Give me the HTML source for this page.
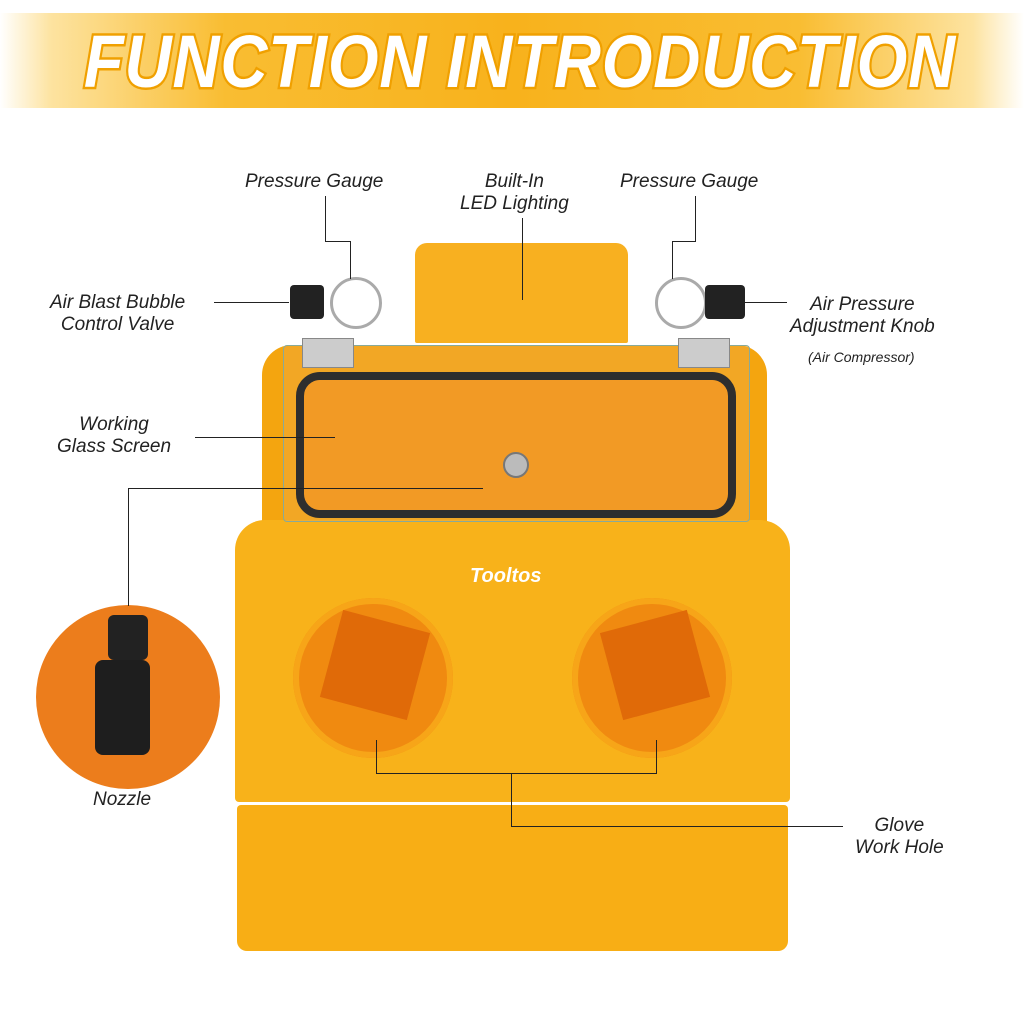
<!DOCTYPE html>
<html><head><style>
body{margin:0;width:1024px;height:1024px;background:#fff;position:relative;overflow:hidden;font-family:"Liberation Sans",sans-serif}
.a{position:absolute}
.lab{position:absolute;font-style:italic;font-size:19px;color:#222;text-align:center;line-height:22px;white-space:nowrap}
.ln{position:absolute;background:#222}
</style></head><body>
<div class="a" style="left:0;top:13px;width:1024px;height:95px;background:linear-gradient(90deg,#fff 0%,#fde3a0 5%,#f9bd32 22%,#f8b21c 50%,#f9bd32 78%,#fde3a0 95%,#fff 100%)"></div>
<div class="a" style="left:8px;top:20px;width:1024px;text-align:center;font-size:74px;font-weight:bold;font-style:italic;color:#fff;-webkit-text-stroke:5px #f0a000;paint-order:stroke fill;letter-spacing:1px;transform:scaleX(0.88);line-height:84px">FUNCTION INTRODUCTION</div>

<div class="a" style="left:237px;top:805px;width:551px;height:146px;background:#f8ae15;border-radius:4px 4px 10px 10px"></div>
<div class="a" style="left:262px;top:345px;width:505px;height:200px;background:#f4a50f;border-radius:30px 30px 0 0"></div>
<div class="a" style="left:235px;top:520px;width:555px;height:282px;background:#f8b21a;border-radius:30px 30px 4px 4px"></div>
<div class="a" style="left:415px;top:243px;width:213px;height:100px;background:#f8b020;border-radius:12px 12px 2px 2px"></div>
<div class="a" style="left:283px;top:345px;width:465px;height:175px;background:rgba(240,170,60,0.5);border:1px solid #8a9;border-radius:4px"></div>
<div class="a" style="left:296px;top:372px;width:424px;height:130px;border:8px solid #2e2e2e;border-radius:24px;background:#f29a25"></div>
<div class="a" style="left:503px;top:452px;width:22px;height:22px;border-radius:50%;background:#bbb;border:2px solid #777"></div>
<div class="a" style="left:302px;top:338px;width:50px;height:28px;background:#ccc;border:1px solid #888"></div>
<div class="a" style="left:678px;top:338px;width:50px;height:28px;background:#ccc;border:1px solid #888"></div>
<div class="a" style="left:290px;top:285px;width:34px;height:34px;background:#222;border-radius:4px"></div>
<div class="a" style="left:330px;top:277px;width:46px;height:46px;border-radius:50%;background:#fff;border:3px solid #aaa"></div>
<div class="a" style="left:655px;top:277px;width:46px;height:46px;border-radius:50%;background:#fff;border:3px solid #aaa"></div>
<div class="a" style="left:705px;top:285px;width:40px;height:34px;background:#222;border-radius:4px"></div>
<div class="a" style="left:470px;top:565px;font-style:italic;font-weight:bold;color:#fff;font-size:20px">Tooltos</div>
<div class="a" style="left:293px;top:598px;width:160px;height:160px;border-radius:50%;background:#f08a10;box-shadow:inset 0 0 0 6px #f7a518"></div>
<div class="a" style="left:572px;top:598px;width:160px;height:160px;border-radius:50%;background:#f08a10;box-shadow:inset 0 0 0 6px #f7a518"></div>
<div class="a" style="left:330px;top:620px;width:90px;height:90px;background:#e06a08;transform:rotate(15deg)"></div>
<div class="a" style="left:610px;top:620px;width:90px;height:90px;background:#e06a08;transform:rotate(-15deg)"></div>
<div class="a" style="left:36px;top:605px;width:184px;height:184px;border-radius:50%;background:#ec7d1c"></div>
<div class="a" style="left:95px;top:660px;width:55px;height:95px;background:#1e1e1e;border-radius:8px"></div>
<div class="a" style="left:108px;top:615px;width:40px;height:45px;background:#222;border-radius:6px"></div>

<div class="ln" style="left:325px;top:196px;width:1px;height:46px"></div>
<div class="ln" style="left:325px;top:241px;width:26px;height:1px"></div>
<div class="ln" style="left:350px;top:241px;width:1px;height:38px"></div>
<div class="ln" style="left:522px;top:218px;width:1px;height:82px"></div>
<div class="ln" style="left:695px;top:196px;width:1px;height:46px"></div>
<div class="ln" style="left:672px;top:241px;width:24px;height:1px"></div>
<div class="ln" style="left:672px;top:241px;width:1px;height:38px"></div>
<div class="ln" style="left:214px;top:302px;width:75px;height:1px"></div>
<div class="ln" style="left:745px;top:302px;width:42px;height:1px"></div>
<div class="ln" style="left:195px;top:437px;width:140px;height:1px"></div>
<div class="ln" style="left:128px;top:488px;width:355px;height:1px"></div>
<div class="ln" style="left:128px;top:488px;width:1px;height:118px"></div>
<div class="ln" style="left:376px;top:740px;width:1px;height:34px"></div>
<div class="ln" style="left:656px;top:740px;width:1px;height:34px"></div>
<div class="ln" style="left:376px;top:773px;width:281px;height:1px"></div>
<div class="ln" style="left:511px;top:773px;width:1px;height:54px"></div>
<div class="ln" style="left:511px;top:826px;width:332px;height:1px"></div>

<div class="lab" style="left:245px;top:171px">Pressure Gauge</div>
<div class="lab" style="left:460px;top:171px">Built-In<br>LED Lighting</div>
<div class="lab" style="left:620px;top:171px">Pressure Gauge</div>
<div class="lab" style="left:50px;top:292px">Air Blast Bubble<br>Control Valve</div>
<div class="lab" style="left:790px;top:294px">Air Pressure<br>Adjustment Knob</div>
<div class="lab" style="left:808px;top:346px;font-size:14px">(Air Compressor)</div>
<div class="lab" style="left:57px;top:414px">Working<br>Glass Screen</div>
<div class="lab" style="left:93px;top:789px">Nozzle</div>
<div class="lab" style="left:855px;top:815px">Glove<br>Work Hole</div>
</body></html>
